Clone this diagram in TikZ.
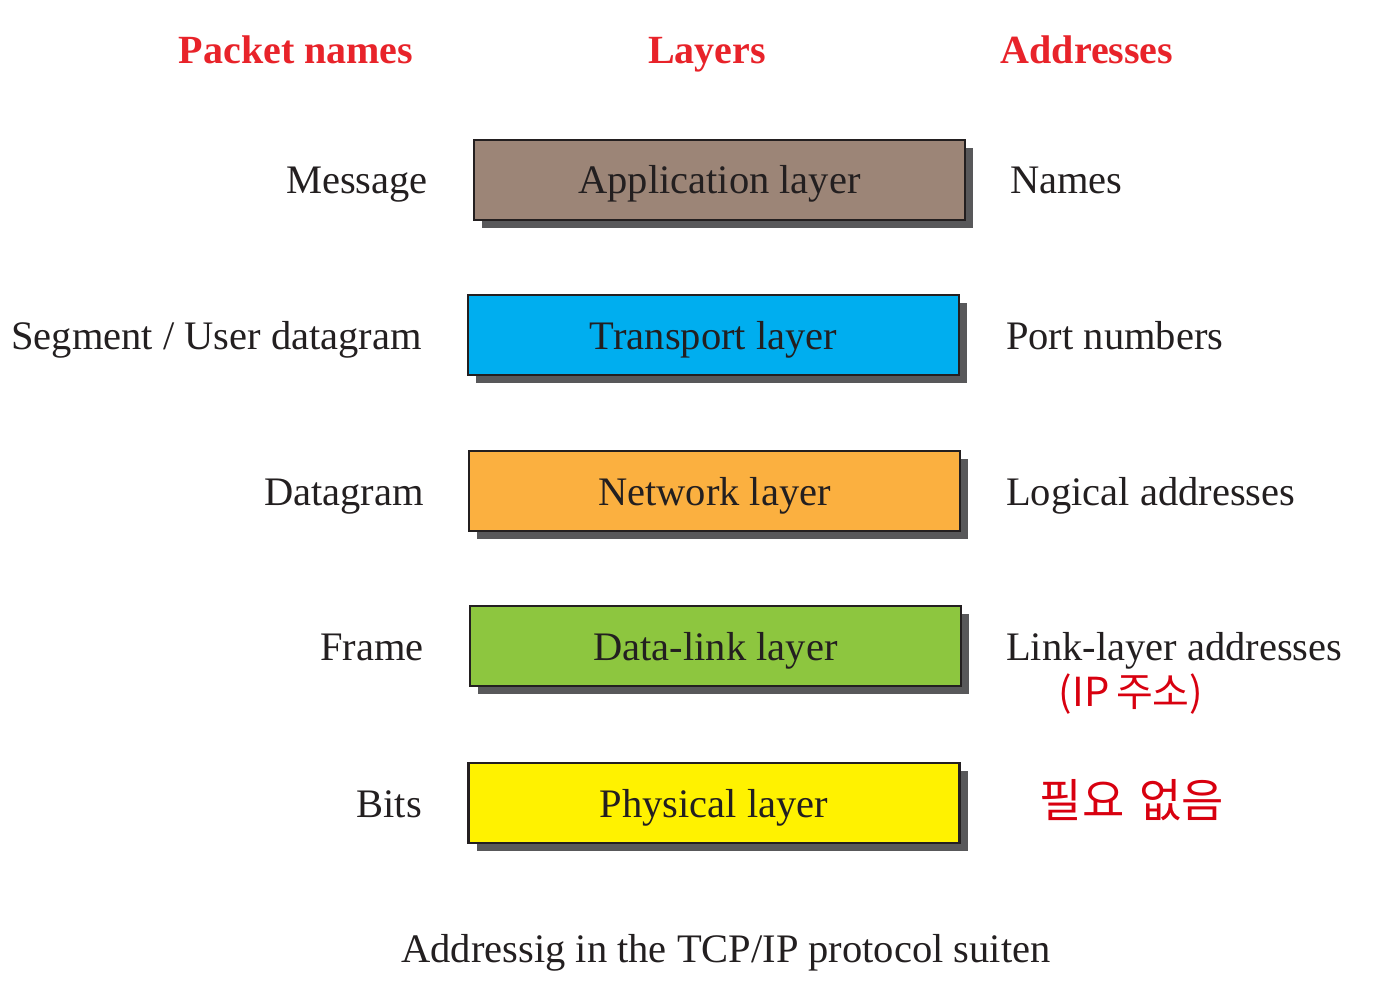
\documentclass[tikz,border=0pt]{standalone}
\usepackage{fontspec}
\setmainfont{Liberation Serif}
\newfontfamily\krfont{Noto Sans CJK KR}
\usetikzlibrary{shadows}
\definecolor{txt}{HTML}{231F20}
\definecolor{hdr}{HTML}{E8232A}
\definecolor{shd}{HTML}{58585A}
\definecolor{appc}{HTML}{9C8577}
\definecolor{trac}{HTML}{00AEEF}
\definecolor{netc}{HTML}{FBB040}
\definecolor{dlc}{HTML}{8DC63F}
\definecolor{phyc}{HTML}{FFF200}
\definecolor{pen}{HTML}{D8000F}
\tikzset{
  lbl/.style={font=\fontsize{40.5}{46}\selectfont, text=txt, inner sep=0pt, text height=31pt, text depth=3pt},
  head/.style={font=\fontsize{40}{46}\selectfont\bfseries, text=hdr, inner sep=0pt, text height=31pt, text depth=3pt},
  layerbox/.style={draw=txt, line width=2.5pt, minimum width=491pt, minimum height=80pt, inner sep=0pt,
    font=\fontsize{40.5}{46}\selectfont, text=txt, text height=31pt, text depth=3pt,
    drop shadow={shadow xshift=8pt, shadow yshift=-8pt, fill=shd, opacity=1}},
  note/.style={font=\krfont\fontsize{46}{52}\selectfont, text=pen, inner sep=0pt}
}
\begin{document}
\begin{tikzpicture}[x=1pt,y=-1pt]
\useasboundingbox (0,0) rectangle (1390,1000);
% headers
\node[head] (h1) at (296,50) {Packet names};
\node[head] (h2) at (707,50) {Layers};
\node[head] (h3) at (1087,50) {Addresses};
% layer boxes
\node[layerbox, fill=appc] (app) at (719.5,180) {Application layer};
\node[layerbox, fill=trac] (tra) at (713.5,335) {Transport layer};
\node[layerbox, fill=netc] (net) at (714.5,491) {Network layer};
\node[layerbox, fill=dlc] (dl) at (715.5,646) {Data-link layer};
\node[layerbox, fill=phyc] (phy) at (714,803) {Physical layer};
% packet names
\node[lbl, anchor=east] (p1) at (428,180) {Message};
\node[lbl, anchor=east] (p2) at (422,335) {Segment / User datagram};
\node[lbl, anchor=east] (p3) at (424,491) {Datagram};
\node[lbl, anchor=east] (p4) at (424,646) {Frame};
\node[lbl, anchor=east] (p5) at (422,803) {Bits};
% addresses
\node[lbl, anchor=west] (a1) at (1010,180) {Names};
\node[lbl, anchor=west] (a2) at (1006,335) {Port numbers};
\node[lbl, anchor=west] (a3) at (1006,491) {Logical addresses};
\node[lbl, anchor=west] (a4) at (1006,646) {Link-layer addresses};
% handwritten notes
\node[note, font=\krfont\fontsize{40}{46}\selectfont] (n1) at (1131,694) {(IP\,주소)};
\node[note] (n2) at (1132,800) {필요\,\,없음};
% caption
\node[lbl] (cap) at (726,948) {Addressig in the TCP/IP protocol suiten};
\end{tikzpicture}
\end{document}
